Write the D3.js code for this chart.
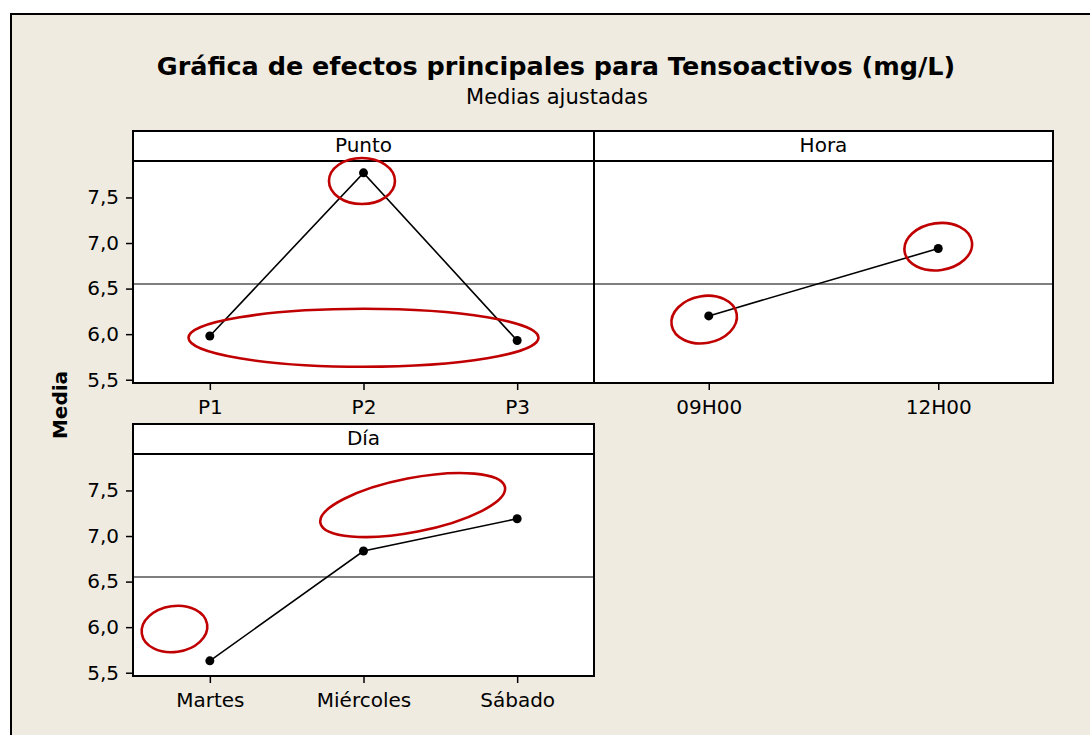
<!DOCTYPE html>
<html>
<head>
<meta charset="utf-8">
<script src="https://cdn.jsdelivr.net/npm/d3@7"></script>
<style>
  body { margin: 0; background: #fff; }
  svg { display: block; font-family: "DejaVu Sans", Verdana, sans-serif; }
</style>
</head>
<body>
<div id="chart"></div>
<script>
// fitted means
var puntoCats = ['P1', 'P2', 'P3'];
var puntoMeans = [5.98, 7.77, 5.93];
var horaCats = ['09H00', '12H00'];
var horaMeans = [6.20, 6.94];
var diaCats = ['Martes', 'Miércoles', 'Sábado'];
var diaMeans = [5.63, 6.835, 7.19];
var yTicks = [5.5, 6.0, 6.5, 7.0, 7.5];
var grandMean = 6.55;

// red hand-drawn rings: category, shift in steps, value
var rings = [
    { panel: 'Punto', at: 'P2', shift: -0.01, value: 7.68, rx: 33, ry: 23, angle: 0 },
    { panel: 'Punto', at: 'P2', shift: 0, value: 5.96, rx: 175, ry: 29, angle: 0 },
    { panel: 'Hora', at: '09H00', shift: -0.02, value: 6.16, rx: 33, ry: 23.5, angle: -10 },
    { panel: 'Hora', at: '12H00', shift: 0, value: 6.96, rx: 34, ry: 23.5, angle: -8 },
    { panel: 'Día', at: 'Miércoles', shift: 0.32, value: 7.34, rx: 94, ry: 27, angle: -11 },
    { panel: 'Día', at: 'Martes', shift: -0.23, value: 5.98, rx: 33, ry: 23, angle: -8 }
];

var width = 1090, height = 735;
var headH = 30, plotH = 222;

var panels = [
    { name: 'Punto', cats: puntoCats, means: puntoMeans, x: 133, y: 131, w: 461, yAxis: true },
    { name: 'Hora', cats: horaCats, means: horaMeans, x: 594, y: 131, w: 459, yAxis: false },
    { name: 'Día', cats: diaCats, means: diaMeans, x: 133, y: 424, w: 461, yAxis: true }
];

var locale = d3.formatLocale({ decimal: ',', thousands: '.', grouping: [3], currency: ['', ''] });
var fmt = locale.format('.1f');

var svg = d3.select('#chart').append('svg')
    .attr('width', width)
    .attr('height', height);

svg.append('rect')
    .attr('x', 11).attr('y', 14)
    .attr('width', width + 20).attr('height', height + 20)
    .attr('fill', '#efebe1')
    .attr('stroke', '#000')
    .attr('stroke-width', 2);

svg.append('text')
    .attr('x', 556).attr('y', 75)
    .attr('text-anchor', 'middle')
    .style('font-size', '25.5px')
    .style('font-weight', 'bold')
    .text('Gráfica de efectos principales para Tensoactivos (mg/L)');

svg.append('text')
    .attr('x', 557).attr('y', 104)
    .attr('text-anchor', 'middle')
    .style('font-size', '21px')
    .text('Medias ajustadas');

svg.append('text')
    .attr('transform', 'translate(67,405) rotate(-90)')
    .attr('text-anchor', 'middle')
    .style('font-size', '20px')
    .style('font-weight', 'bold')
    .text('Media');

var scales = {};

panels.forEach(function(p) {
    var g = svg.append('g')
        .attr('transform', 'translate(' + p.x + ',' + p.y + ')');

    var x = d3.scalePoint().domain(p.cats).range([0, p.w]).padding(0.5),
        y = d3.scaleLinear().domain([5.464, 7.9]).range([headH + plotH, headH]);
    scales[p.name] = { x: x, y: y, g: g };

    // header strip
    g.append('rect')
        .attr('width', p.w).attr('height', headH)
        .attr('fill', '#fff').attr('stroke', '#000').attr('stroke-width', 2);
    g.append('text')
        .attr('x', p.w / 2).attr('y', 21)
        .attr('text-anchor', 'middle')
        .style('font-size', '20px')
        .text(p.name);

    g.append('rect')
        .attr('y', headH)
        .attr('width', p.w).attr('height', plotH)
        .attr('fill', '#fff').attr('stroke', '#000').attr('stroke-width', 2);

    g.append('line')
        .attr('x1', 1).attr('x2', p.w - 1)
        .attr('y1', y(grandMean)).attr('y2', y(grandMean))
        .attr('stroke', '#555').attr('stroke-width', 1.6);

    var xAxis = g.append('g')
        .attr('transform', 'translate(0,' + (headH + plotH) + ')')
        .call(d3.axisBottom(x).tickSize(7).tickPadding(10))
        .attr('font-family', null)
        .attr('font-size', null);
    xAxis.select('.domain').remove();
    xAxis.selectAll('line').attr('stroke-width', 1.5);
    xAxis.selectAll('text').style('font-size', '20px').attr('fill', '#000');

    if (p.yAxis) {
        var yAxis = g.append('g')
            .call(d3.axisLeft(y).tickValues(yTicks).tickFormat(fmt).tickSize(7).tickPadding(7))
            .attr('font-family', null)
            .attr('font-size', null);
        yAxis.select('.domain').remove();
        yAxis.selectAll('line').attr('stroke-width', 1.5);
        yAxis.selectAll('text').style('font-size', '20px').attr('fill', '#000');
    }

    var pts = p.cats.map(function(c, i) { return { cat: c, mean: p.means[i] }; });

    g.append('path')
        .datum(pts)
        .attr('fill', 'none')
        .attr('stroke', '#000')
        .attr('stroke-width', 1.6)
        .attr('d', d3.line()
            .x(function(d) { return x(d.cat); })
            .y(function(d) { return y(d.mean); }));

    g.selectAll('.pt')
        .data(pts)
        .enter().append('circle')
        .attr('class', 'pt')
        .attr('cx', function(d) { return x(d.cat); })
        .attr('cy', function(d) { return y(d.mean); })
        .attr('r', 4.5)
        .attr('fill', '#000');
});

// rings go on top of everything
rings.forEach(function(r) {
    var s = scales[r.panel];
    var cx = s.x(r.at) + r.shift * s.x.step(),
        cy = s.y(r.value);
    s.g.append('ellipse')
        .attr('transform', 'translate(' + cx + ',' + cy + ') rotate(' + r.angle + ')')
        .attr('rx', r.rx).attr('ry', r.ry)
        .attr('fill', 'none')
        .attr('stroke', '#c00000')
        .attr('stroke-width', 2.6);
});
</script>
</body>
</html>
